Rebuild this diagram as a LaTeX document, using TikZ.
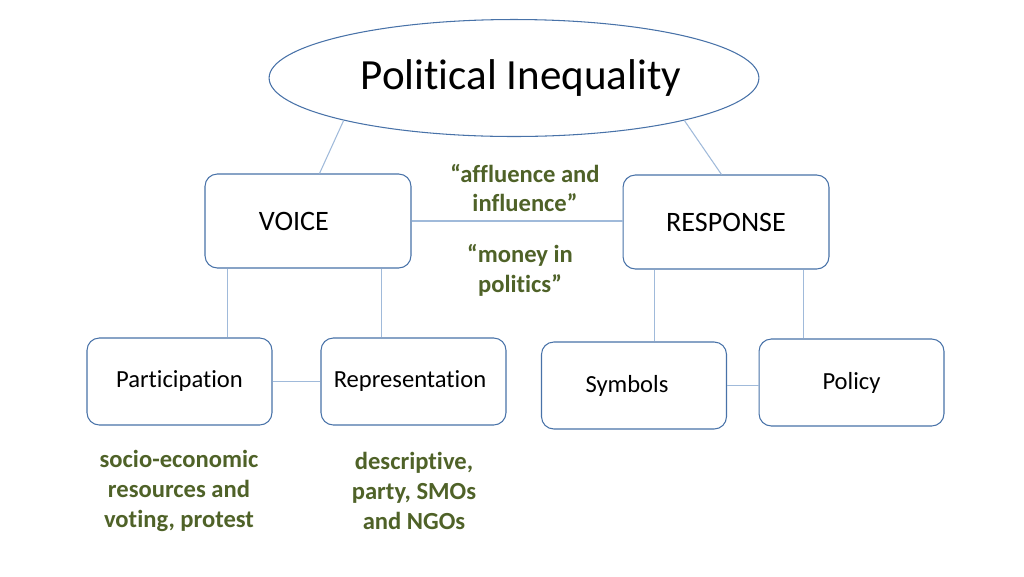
\documentclass[tikz,border=0pt]{standalone}
\usepackage{fontspec}
\setmainfont{Carlito}[Ligatures={NoCommon}]
\usetikzlibrary{calc,shapes.geometric}
\definecolor{boxblue}{RGB}{72,114,168}
\definecolor{lineblue}{RGB}{160,186,218}
\definecolor{olivegreen}{RGB}{79,98,40}
\tikzset{
  box/.style={draw=boxblue,line width=0.6pt,fill=white,rounded corners=7pt,align=center},
  bigbox/.style={box,minimum width=4.12cm,minimum height=1.88cm,font=\fontsize{16}{19}\selectfont},
  smallbox/.style={box,minimum width=3.7cm,minimum height=1.74cm,font=\fontsize{14}{17}\selectfont},
  note/.style={align=center,text=olivegreen,font=\fontsize{14}{17}\selectfont\bfseries},
  link/.style={draw=lineblue,line width=0.6pt}
}
\begin{document}
\begin{tikzpicture}[x=0.02cm,y=-0.02cm]
\useasboundingbox (0,0) rectangle (1024,576);
\begin{scope}
\node[ellipse,draw=boxblue,line width=0.6pt,minimum width=9.74cm,minimum height=2.34cm,
  font=\fontsize{24.5}{29}\selectfont] (ineq) at (514,78) {\hspace{8pt}Political Inequality};
\node[bigbox] (voice) at (308,221) {VOICE\hspace{16pt}};
\node[bigbox] (resp) at (726,222) {RESPONSE};
\node[smallbox] (part) at (179.5,381.5) {Participation};
\node[smallbox] (repr) at (413.5,381.5) {\raisebox{-1pt}{Representation}\hspace{4pt}};
\node[smallbox] (symb) at (634,385.5) {\raisebox{-2pt}{Symbols}\hspace{8pt}};
\node[smallbox] (poli) at (851.5,382.5) {\raisebox{-2pt}{Policy}};

\node[note] (affl) at (525,188) {“affluence and\\influence”};
\node[note] (money) at (520,270) {“money in\\politics”};
\node[note] (socio) at (179,491) {socio-economic\\resources and\\voting, protest};
\node[note] (descr) at (414,491) {descriptive,\\party, SMOs\\and NGOs};

\coordinate (v1) at ($(voice.south west)+(23,0)$);
\coordinate (v2) at ($(voice.south west)+(177,0)$);
\coordinate (r1) at ($(resp.south west)+(32,0)$);
\coordinate (r2) at ($(resp.south west)+(181,0)$);

\draw[link] (ineq.194) -- ($(voice.north west)+(115,0)$);
\draw[link] (ineq.346) -- ($(resp.north west)+(99,0)$);
\draw[link] (voice.east) -- (voice.east -| resp.west);
\draw[link] (v1) -- (v1 |- part.north);
\draw[link] (v2) -- (v2 |- repr.north);
\draw[link] (r1) -- (r1 |- symb.north);
\draw[link] (r2) -- (r2 |- poli.north);
\draw[link] (part.east) -- (repr.west);
\draw[link] (symb.east) -- (symb.east -| poli.west);
\end{scope}
\end{tikzpicture}
\end{document}
